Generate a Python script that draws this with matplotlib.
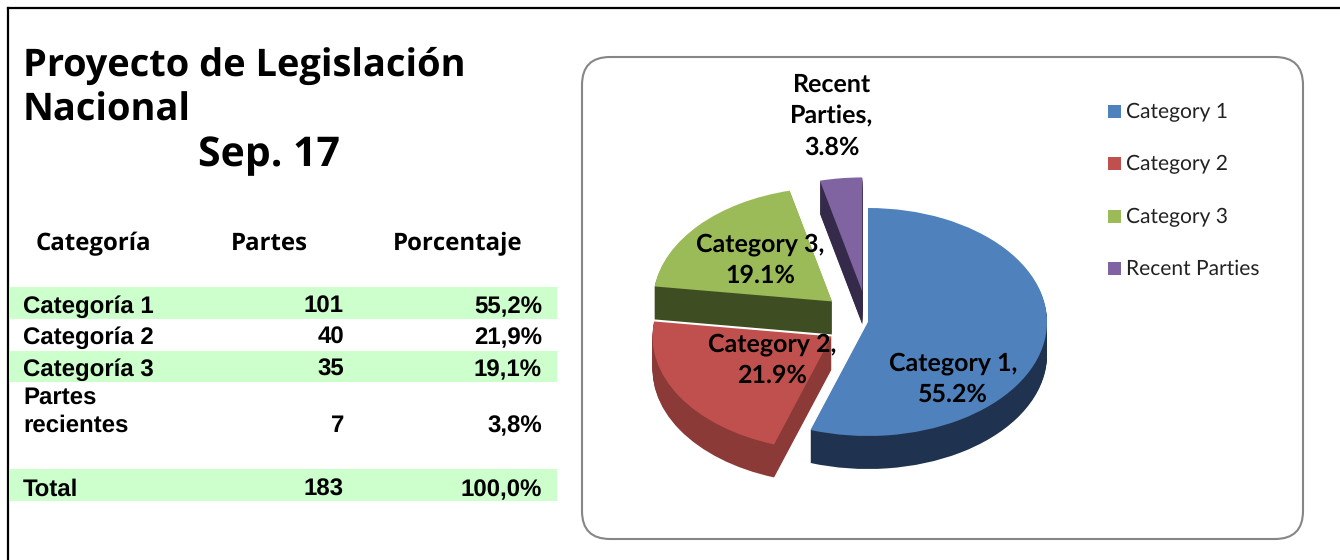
import matplotlib
matplotlib.use('Agg')
import matplotlib.pyplot as plt
from matplotlib.patches import FancyBboxPatch, Rectangle

plt.rcParams['text.hinting'] = 'no_hinting'
plt.rcParams['text.hinting_factor'] = 1
plt.rcParams['font.family'] = ['Liberation Sans', 'DejaVu Sans']

categorias = ['Categoría 1', 'Categoría 2', 'Categoría 3', 'Partes\nrecientes']
partes = [101, 40, 35, 7]
porcentaje = ['55,2%', '21,9%', '19,1%', '3,8%']
total_partes = 183
total_pct = '100,0%'

pie_labels = ['Category 1', 'Category 2', 'Category 3', 'Recent Parties']
pie_values = [55.2, 21.9, 19.1, 3.8]
pie_text = ['Category 1,\n55.2%', 'Category 2,\n21.9%', 'Category 3,\n19.1%', 'Recent\nParties,\n3.8%']
colores = ['#4F81BD', '#C0504D', '#9BBB59', '#8064A2']
oscuros = ['#1F3350', '#8C3A37', '#3F4D22', '#352A4A']
explode = [0, 0.24, 0.27, 0.27]
orden = [4, 3, 2, 1]

W, H = 1340, 560
fig = plt.figure(figsize=(13.4, 5.6), dpi=100)

bg = fig.add_axes([0, 0, 1, 1])
bg.set_xlim(0, W)
bg.set_ylim(H, 0)
bg.axis('off')

# marco exterior
bg.plot([8, 8], [560, 8], color='black', lw=1.6)
bg.plot([8, 1340], [8, 8], color='black', lw=1.6)

# titulo
tit = ['Open Sans', 'DejaVu Sans']
bg.text(23, 66, 'Proyecto de Legislación', fontsize=27.7, fontweight='bold', family=tit, va='center')
bg.text(23, 111, 'Nacional', fontsize=27.7, fontweight='bold', family=tit, va='center')
bg.text(198, 156, 'Sep. 17', fontsize=29.5, fontweight='bold', family=tit, va='center')

# tabla
for x, t in [(93, 'Categoría'), (269, 'Partes'), (458, 'Porcentaje')]:
    bg.text(x, 244, t, fontsize=17.3, fontweight='bold', family=tit, ha='center', va='center')

for y0, y1 in [(287, 319), (351, 382), (469, 501)]:
    bg.add_patch(Rectangle((10, y0), 547, y1 - y0, color='#CCFFCC', lw=0))

fs = 17.2
filas_y = [307, 338, 370, 426]
for cat, n, pct, y in zip(categorias, partes, porcentaje, filas_y):
    if '\n' in cat:
        a, b = cat.split('\n')
        bg.text(23, 398, a, fontsize=fs, fontweight='bold', va='center')
        bg.text(23, 426, b, fontsize=fs, fontweight='bold', va='center')
    else:
        bg.text(23, y, cat, fontsize=fs, fontweight='bold', va='center')
    bg.text(344, y, str(n), fontsize=fs, fontweight='bold', ha='right', va='center')
    bg.text(542, y, pct, fontsize=fs, fontweight='bold', ha='right', va='center')
bg.text(23, 490, 'Total', fontsize=fs, fontweight='bold', va='center')
bg.text(344, 490, str(total_partes), fontsize=fs, fontweight='bold', ha='right', va='center')
bg.text(542, 490, total_pct, fontsize=fs, fontweight='bold', ha='right', va='center')

# caja del grafico
bg.add_patch(FancyBboxPatch((582, 57), 721, 482, boxstyle='round,pad=0,rounding_size=28',
                            fc='white', ec='#868686', lw=1.5))

# pastel: radio 1 = 179 px en x, 114 px en y, centro en (868, 322)
cx, cy, rx, ry = 868, 322, 179, 114
pie_ax = fig.add_axes([0, 0, 1, 1], facecolor='none')
for d in range(33, -1, -1):
    wedges, _ = pie_ax.pie(pie_values, explode=explode, colors=oscuros if d else colores,
                           startangle=90, counterclock=False, center=(0, -d / ry),
                           radius=1, wedgeprops={'linewidth': 0})
    for w, z in zip(wedges, orden):
        w.set_zorder(z + (0.5 if d == 0 else 0))
pie_ax.set_aspect('auto')
pie_ax.set_xlim(-cx / rx, (W - cx) / rx)
pie_ax.set_ylim(-(H - cy) / ry, cy / ry)
pie_ax.axis('off')

ax = fig.add_axes([0, 0, 1, 1], facecolor='none')
ax.set_xlim(0, W)
ax.set_ylim(H, 0)
ax.axis('off')

# etiquetas
lab_font = ['Lato', 'DejaVu Sans']
for t, (x, y) in zip(pie_text, [(953, 379), (772, 360), (760, 260), (832, 116)]):
    ax.text(x, y, t, fontsize=18, fontweight='bold', ha='center', va='center',
            family=lab_font, linespacing=1.48)

# leyenda
for lab, c, y in zip(pie_labels, colores, [111, 163, 216, 268]):
    ax.add_patch(Rectangle((1108, y - 6), 13, 13, color=c, lw=0))
    ax.text(1126, y + 1, lab, fontsize=15.2, family=lab_font, va='center', color='#222222')

fig.savefig('out.png', dpi=100)
